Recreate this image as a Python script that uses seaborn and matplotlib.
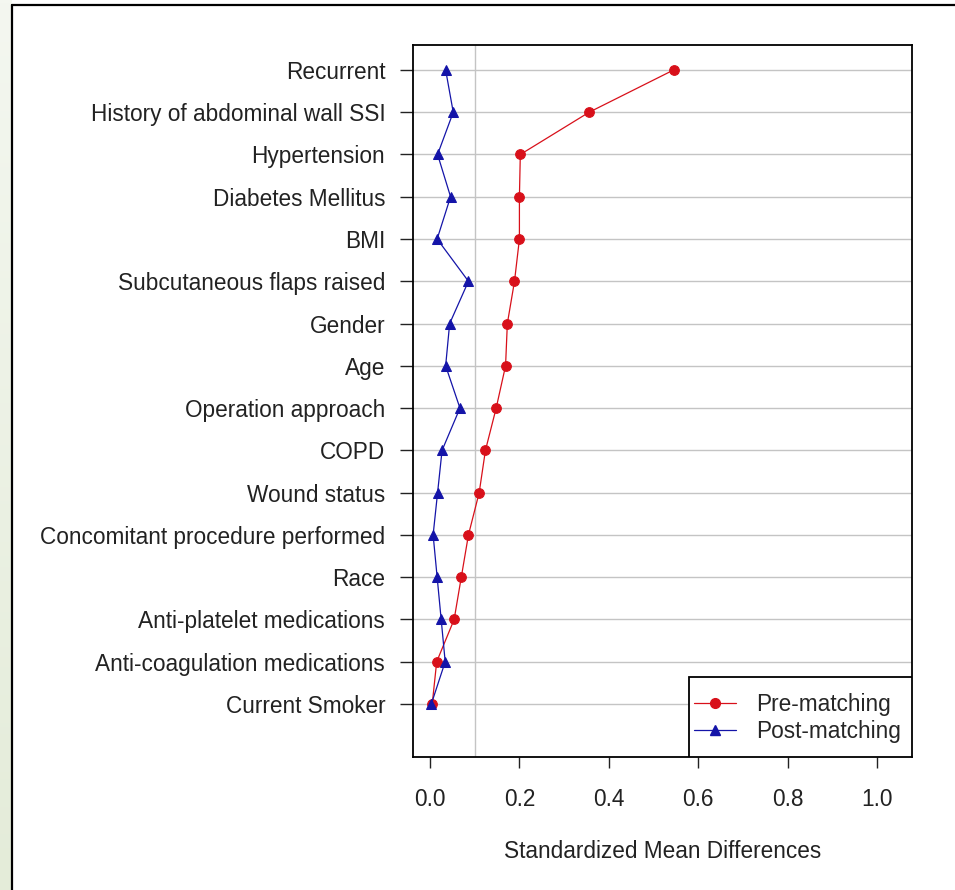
import numpy as np
import pandas as pd
import matplotlib
matplotlib.use("Agg")
import matplotlib.pyplot as plt
import seaborn as sns
from matplotlib.lines import Line2D
from matplotlib.patches import Rectangle

# Data
covariates = [
    "Recurrent", "History of abdominal wall SSI", "Hypertension",
    "Diabetes Mellitus", "BMI", "Subcutaneous flaps raised", "Gender", "Age",
    "Operation approach", "COPD", "Wound status",
    "Concomitant procedure performed", "Race", "Anti-platelet medications",
    "Anti-coagulation medications", "Current Smoker",
]
pre_matching = [0.545, 0.356, 0.202, 0.200, 0.200, 0.189, 0.173, 0.169,
                0.148, 0.124, 0.110, 0.086, 0.070, 0.054, 0.015, 0.005]
post_matching = [0.035, 0.052, 0.017, 0.046, 0.016, 0.086, 0.044, 0.035,
                 0.067, 0.027, 0.017, 0.007, 0.016, 0.025, 0.034, 0.003]
x_ticks = [0.0, 0.2, 0.4, 0.6, 0.8, 1.0]
threshold = 0.1

pos = list(range(len(covariates) - 1, -1, -1))
df = pd.DataFrame({"covariate": covariates, "pos": pos,
                   "pre": pre_matching, "post": post_matching})

sns.set_style("white")
plt.rcParams["font.family"] = ["Liberation Sans", "DejaVu Sans"]

RED = "#d8101a"
BLUE = "#1414a8"
FS = 16.3

fig = plt.figure(figsize=(9.55, 8.9), dpi=100)

# pale green strip and outer frame
strip = fig.add_axes([0, 0, 11 / 955, 1])
grad = np.linspace(0, 1, 256).reshape(-1, 1)
strip.imshow(grad, aspect="auto", cmap=matplotlib.colors.LinearSegmentedColormap.from_list(
    "g", ["#f4f7f0", "#e4ecd9"]), origin="upper")
strip.axis("off")
fig.add_artist(Line2D([11.5 / 955, 11.5 / 955], [0, 1 - 4.5 / 890], color="black", lw=1.6))
fig.add_artist(Line2D([11.5 / 955, 1], [1 - 4.5 / 890, 1 - 4.5 / 890], color="black", lw=1.6))

ax = fig.add_axes([413 / 955, 1 - 757 / 890, (912 - 413) / 955, (757 - 45) / 890])

for p in df["pos"]:
    ax.axhline(p, color="#c4c4c4", lw=1.0, zorder=0)
ax.axvline(threshold, color="#c4c4c4", lw=1.0, zorder=0)

sns.lineplot(data=df, x="pre", y="pos", orient="y", sort=False, ax=ax,
             color=RED, lw=0.9, marker="o", markersize=7,
             markeredgecolor=RED, markerfacecolor=RED, zorder=3)
sns.lineplot(data=df, x="post", y="pos", orient="y", sort=False, ax=ax,
             color=BLUE, lw=0.9, marker="^", markersize=7.5,
             markeredgecolor=BLUE, markerfacecolor=BLUE, zorder=4)

ax.set_xlim(-0.038, 1.078)
ax.set_ylim(-1.254, 15.59)
ax.set_xticks(x_ticks)
ax.set_xticklabels([f"{t:.1f}" for t in x_ticks])
ax.set_yticks(df["pos"])
ax.set_yticklabels(df["covariate"])

for s in ax.spines.values():
    s.set_color("black")
    s.set_linewidth(1.3)

ax.tick_params(axis="y", which="major", left=True, length=9.5, width=1.0,
               pad=10.5, labelsize=FS, color="#222222", labelcolor="#222222")
ax.tick_params(axis="x", which="major", bottom=True, length=8, width=1.0,
               pad=14, labelsize=FS, color="#222222", labelcolor="#222222")
ax.set_xlabel("Standardized Mean Differences", fontsize=FS, color="#222222",
              labelpad=21.5)
ax.set_ylabel("")

# legend box (R style: tall box, tight sides)
box_left = (689 - 413) / 499
box_top = (757 - 677) / 712
ax.add_patch(Rectangle((box_left, 0), 1 - box_left, box_top, transform=ax.transAxes,
                       facecolor="white", edgecolor="black", lw=1.3, zorder=5))

handles = [
    Line2D([], [], color=RED, lw=0.9, marker="o", markersize=7),
    Line2D([], [], color=BLUE, lw=0.9, marker="^", markersize=7.5),
]
leg = ax.legend(handles, ["Pre-matching", "Post-matching"], loc="center left",
                bbox_to_anchor=((694 - 413) / 499, (757 - 718) / 712),
                fontsize=FS, frameon=False, borderaxespad=0, borderpad=0,
                handlelength=1.85, handletextpad=0.9, labelspacing=0.2)
leg.set_zorder(6)

fig.savefig("out.png", dpi=100)
plt.close(fig)
